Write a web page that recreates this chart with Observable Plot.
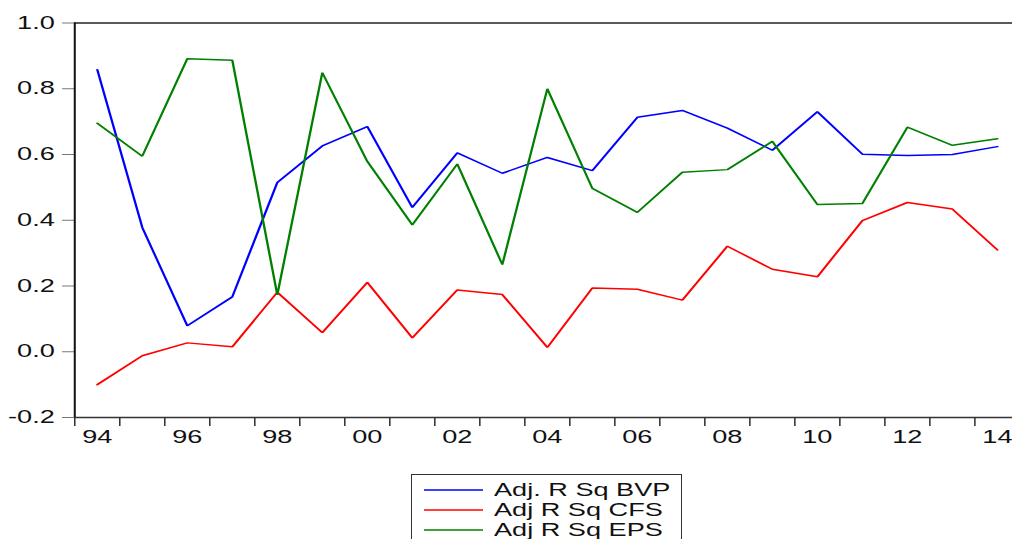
<!DOCTYPE html>
<html>
<head>
<meta charset="utf-8">
<script src="https://cdn.jsdelivr.net/npm/d3@7"></script>
<script src="https://cdn.jsdelivr.net/npm/@observablehq/plot@0.6"></script>
<style>
  html, body { margin: 0; padding: 0; background: #fff; }
  #wrap { position: relative; width: 1012px; height: 539px; overflow: hidden; }
  #legend { position: absolute; left: 411px; top: 474px; width: 271px; height: 72px;
            border: 1px solid #333; background: #fff; box-sizing: border-box;
            font-family: "Liberation Sans", Arial, sans-serif; font-size: 17.5px; color: #111; }
  .row { position: absolute; left: 0; width: 100%; height: 20px; }
  .sw { position: absolute; left: 12px; top: 8px; width: 59px; height: 4px; }
  .lab { position: absolute; left: 82px; top: 0; line-height: 20px; white-space: nowrap;
         transform: scaleX(1.55); transform-origin: 0 50%; }
</style>
</head>
<body>
<div id="wrap"><div id="chart"></div><div id="legend"></div></div>
<script>
const years = [1994,1995,1996,1997,1998,1999,2000,2001,2002,2003,2004,2005,2006,2007,2008,2009,2010,2011,2012,2013,2014];
const bvp = [0.858,0.378,0.079,0.167,0.515,0.626,0.685,0.439,0.605,0.543,0.591,0.551,0.713,0.734,0.680,0.613,0.730,0.601,0.597,0.600,0.624];
const cfs = [-0.100,-0.012,0.027,0.015,0.181,0.058,0.211,0.042,0.188,0.174,0.013,0.194,0.190,0.157,0.321,0.251,0.228,0.399,0.454,0.434,0.310];
const eps = [0.695,0.595,0.891,0.887,0.173,0.849,0.579,0.386,0.571,0.265,0.800,0.497,0.424,0.546,0.554,0.640,0.448,0.451,0.683,0.628,0.648];
const seriesNames = ["Adj. R Sq BVP", "Adj R Sq CFS", "Adj R Sq EPS"];
const seriesColors = ["#0000ff", "#ff0000", "#008000"];
const xTickYears = [1994,1996,1998,2000,2002,2004,2006,2008,2010,2012,2014];
const xTickLabels = ["94","96","98","00","02","04","06","08","10","12","14"];
const yTicks = [-0.2,0.0,0.2,0.4,0.6,0.8,1.0];

const S = 1012 / 653; // horizontal stretch of the original picture
const rows = [];
[bvp, cfs, eps].forEach((vals, k) => vals.forEach((v, i) => rows.push({year: years[i], value: v, series: seriesNames[k]})));
const halfYears = years.map(y => y - 0.5);

const svg = Plot.plot({
  width: 653,
  height: 460,
  marginLeft: 74 / S,
  marginRight: 0,
  marginTop: 22.5,
  marginBottom: 43,
  style: {fontFamily: "'Liberation Sans', Arial, sans-serif", fontSize: "17.5px", background: "#fff", color: "#111"},
  x: {domain: [1993.5, 2014.342], label: null},
  y: {domain: [-0.2, 1.0], label: null},
  color: {domain: seriesNames, range: seriesColors},
  marks: [
    Plot.axisY({ticks: yTicks, tickSize: 7.7, tickFormat: () => "", stroke: "#777", label: null}),
    Plot.axisY({ticks: yTicks, tickSize: 0, tickPadding: 12.9, tickFormat: d => d.toFixed(1), fill: "#111", label: null}),
    Plot.axisX({ticks: halfYears, tickSize: 9, tickFormat: () => "", stroke: "#333", label: null}),
    Plot.axisX({ticks: xTickYears, tickSize: 0, tickPadding: 13, tickFormat: d => xTickLabels[xTickYears.indexOf(d)], fill: "#111", label: null}),
    Plot.ruleY([1.0], {stroke: "#222", strokeWidth: 1.4}),
    Plot.ruleY([-0.2], {stroke: "#333", strokeWidth: 1.6}),
    Plot.ruleX([1993.5], {y1: -0.2, y2: 1.0, stroke: "#111", strokeWidth: 1.3}),
    Plot.line(rows, {x: "year", y: "value", z: "series", stroke: "series", strokeWidth: 1.5, strokeLinejoin: "miter"})
  ]
});
svg.setAttribute("width", 1012);
svg.setAttribute("height", 460);
svg.setAttribute("preserveAspectRatio", "none");
svg.style.width = "1012px";
svg.style.height = "460px";
svg.style.maxWidth = "none";
svg.style.display = "block";
document.getElementById("chart").appendChild(svg);

const legend = document.getElementById("legend");
seriesNames.forEach((name, k) => {
  const row = document.createElement("div");
  row.className = "row";
  row.style.top = (5 + 20 * k) + "px";
  const sw = document.createElement("div");
  sw.className = "sw";
  sw.innerHTML = `<svg width="59" height="4" style="display:block"><line x1="0" x2="59" y1="2" y2="2" stroke="${seriesColors[k]}" stroke-width="1.5"/></svg>`;
  const lab = document.createElement("div");
  lab.className = "lab";
  lab.textContent = name;
  row.appendChild(sw);
  row.appendChild(lab);
  legend.appendChild(row);
});
</script>
</body>
</html>
